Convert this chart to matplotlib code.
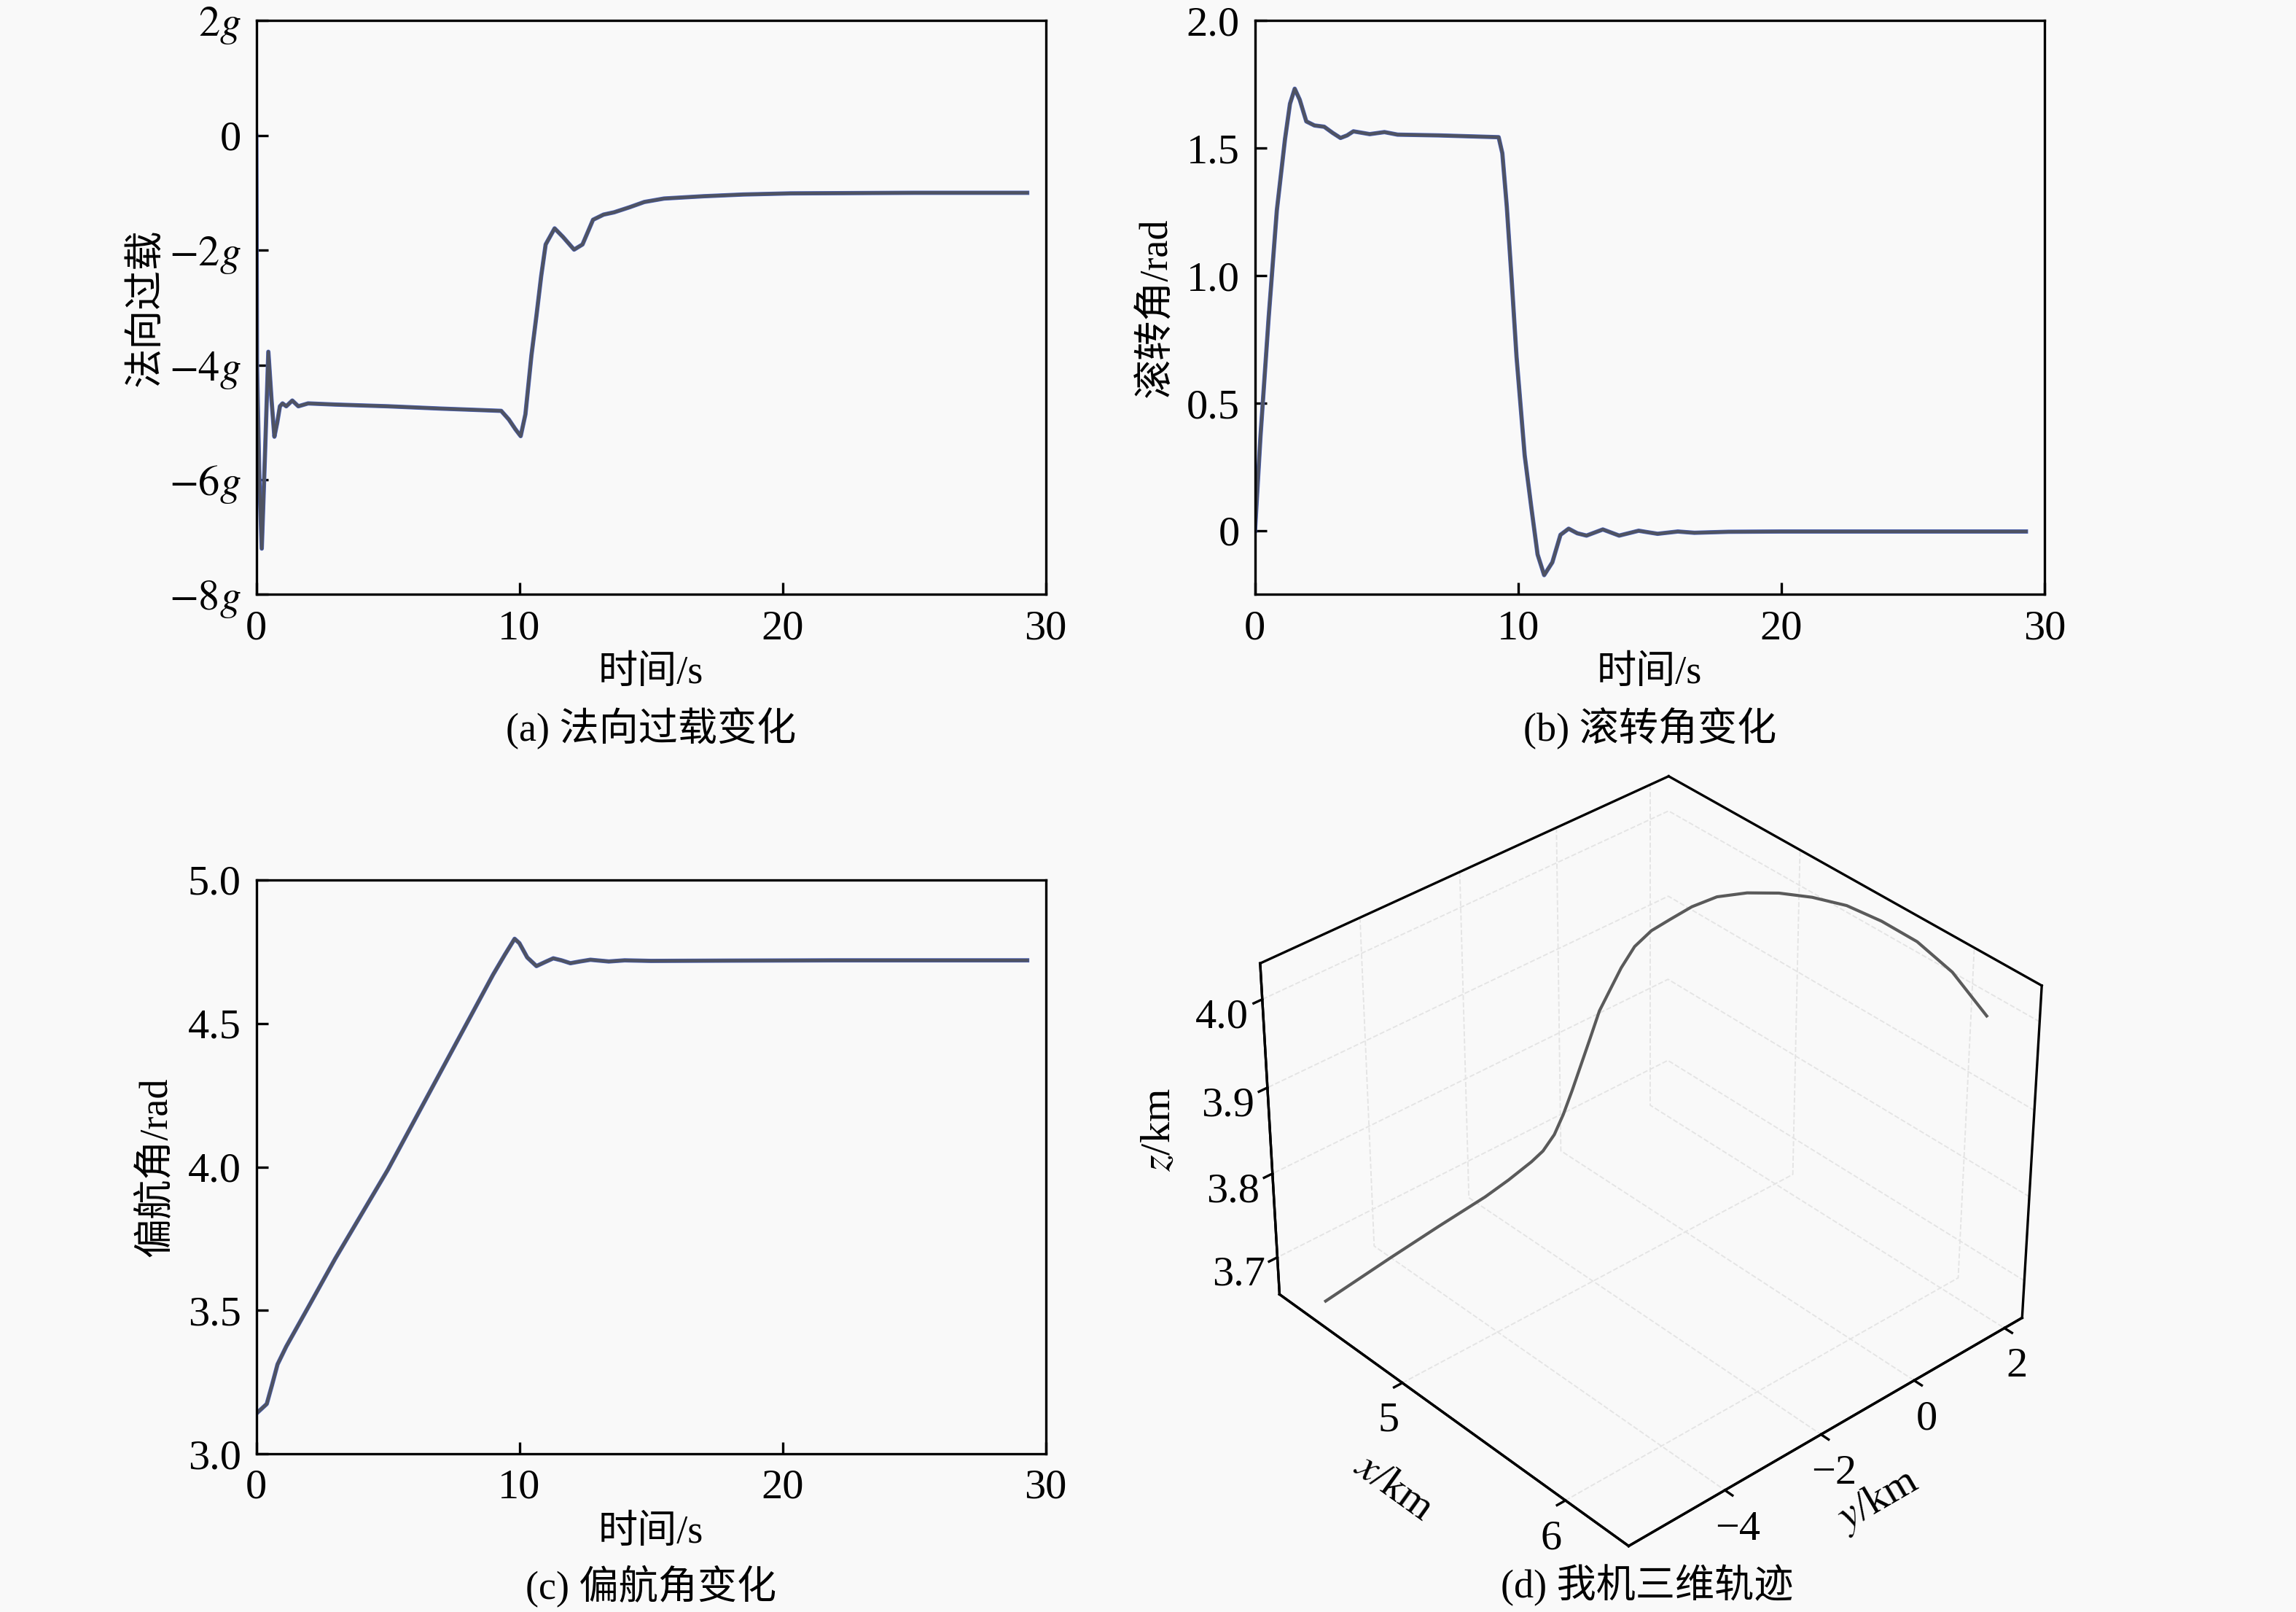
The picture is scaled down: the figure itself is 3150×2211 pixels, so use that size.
import matplotlib
matplotlib.use("Agg")
import matplotlib.pyplot as plt

plt.rcParams['font.family'] = ['Liberation Serif', 'Noto Sans CJK SC']
plt.rcParams['mathtext.fontset'] = 'stix'
plt.rcParams['font.size'] = 14
plt.rcParams['axes.unicode_minus'] = True

# (a) normal overload, in g
t_a = [0, 0.03, 0.12, 0.21, 0.33, 0.46, 0.58, 0.69, 0.8, 0.9, 1.0, 1.14, 1.37, 1.6, 1.97,
       3, 5, 7, 9.31, 9.6, 9.85, 10.05, 10.23, 10.46, 10.65, 10.83, 11.0, 11.34, 11.66,
       12.08, 12.4, 12.8, 13.2, 13.6, 14.2, 14.75, 15.5, 17, 18.5, 20.3, 25, 29.3]
n_a = [0, -4.0, -6.0, -7.2, -5.6, -3.77, -4.6, -5.25, -5.0, -4.72, -4.67, -4.72, -4.62, -4.72, -4.67,
       -4.69, -4.72, -4.76, -4.80, -4.95, -5.12, -5.24, -4.86, -3.83, -3.14, -2.45, -1.9, -1.62, -1.77,
       -1.99, -1.9, -1.47, -1.38, -1.34, -1.25, -1.16, -1.1, -1.06, -1.03, -1.01, -1.0, -1.0]

# (b) roll angle, rad
t_b = [0, 0.21, 0.52, 0.83, 1.14, 1.33, 1.51, 1.7, 1.95, 2.26, 2.63, 2.95, 3.25, 3.5, 3.74,
       4.36, 4.92, 5.42, 7, 9.26, 9.4, 9.57, 9.75, 9.94, 10.25, 10.5, 10.74, 10.99, 11.3,
       11.61, 11.92, 12.25, 12.6, 13.22, 13.84, 14.58, 15.3, 16.07, 16.7, 18, 20, 25, 29.3]
phi = [0, 0.372, 0.837, 1.256, 1.535, 1.674, 1.733, 1.69, 1.605, 1.589, 1.584, 1.56, 1.54, 1.55, 1.566,
       1.555, 1.563, 1.553, 1.55, 1.543, 1.48, 1.271, 0.992, 0.682, 0.295, 0.093, -0.093, -0.174, -0.124,
       -0.016, 0.008, -0.01, -0.019, 0.005, -0.019, 0.0, -0.012, -0.003, -0.008, -0.004, -0.003, -0.003, -0.003]

# (c) yaw angle, rad
t_c = [0, 0.4, 0.6, 0.81, 1.14, 2, 3, 5, 7, 9, 9.45, 9.82, 10.0, 10.3, 10.65, 11.0, 11.29,
       11.6, 11.94, 12.3, 12.7, 13.4, 14, 15, 18, 22, 29.3]
psi = [3.14, 3.174, 3.24, 3.312, 3.374, 3.515, 3.68, 3.99, 4.33, 4.67, 4.74, 4.795, 4.78, 4.73, 4.70,
       4.715, 4.727, 4.72, 4.71, 4.716, 4.722, 4.716, 4.72, 4.718, 4.719, 4.72, 4.72]

# (d) 3D trajectory, km
traj_x = [6.110, 5.914, 5.720, 5.529, 5.345, 5.167, 4.999, 4.841, 4.696, 4.584, 4.497, 4.426,
          4.372, 4.340, 4.322, 4.313, 4.310, 4.310, 4.310, 4.310, 4.310, 4.310, 4.310, 4.310,
          4.310, 4.310, 4.310, 4.310]
traj_y = [2.300, 2.290, 2.262, 2.214, 2.148, 2.064, 1.963, 1.846, 1.714, 1.569, 1.411, 1.243,
          1.065, 0.881, 0.690, 0.496, 0.300, 0.100, -0.100, -0.300, -0.500, -0.750, -1.000, -1.500,
          -2.000, -3.000, -4.000, -5.350]
traj_z = [3.979, 4.006, 4.019, 4.022, 4.021, 4.013, 4.002, 3.988, 3.971, 3.951, 3.931, 3.914,
          3.894, 3.870, 3.846, 3.826, 3.798, 3.772, 3.746, 3.722, 3.703, 3.690, 3.684, 3.676,
          3.670, 3.663, 3.655, 3.643]

bg = '#f9f9f9'
line_blue = '#4a64c8'
line_grey = '#505050'
fs_cn = 13

fig = plt.figure(figsize=(10.5, 7.37), dpi=300, facecolor=bg)


def style_2d(ax):
    ax.set_facecolor(bg)
    for s in ax.spines.values():
        s.set_linewidth(0.8)
    ax.tick_params(direction='in', length=3.8, width=0.8, pad=5, labelsize=14,
                   top=False, right=False)
    ax.set_xlim(0, 30)
    ax.set_xticks([0, 10, 20, 30])
    ax.set_xlabel('时间/s', fontsize=fs_cn)
    ax.xaxis.set_label_coords(0.5, -0.138)
    ax.xaxis.label.set_va('center')


def draw_line(ax, t, v):
    ax.plot(t, v, color=line_blue, lw=1.4)
    ax.plot(t, v, color=line_grey, lw=1.1, alpha=0.85)


ax_a = fig.add_axes([0.1116, 0.6312, 0.3438, 0.356])
style_2d(ax_a)
draw_line(ax_a, t_a, n_a)
ax_a.set_ylim(-8, 2)
ax_a.set_yticks([-8, -6, -4, -2, 0, 2])
ax_a.set_yticklabels(['$-8g$', '$-6g$', '$-4g$', '$-2g$', '0', '$2g$'])
ax_a.set_ylabel('法向过载', fontsize=fs_cn)
ax_a.yaxis.set_label_coords(-0.139, 0.5)
ax_a.yaxis.label.set_va('center')
ax_a.text(0.5, -0.232, '(a) 法向过载变化', transform=ax_a.transAxes, ha='center', va='center', fontsize=fs_cn)

ax_b = fig.add_axes([0.5466, 0.6312, 0.3438, 0.356])
style_2d(ax_b)
draw_line(ax_b, t_b, phi)
ax_b.set_ylim(-0.25, 2.0)
ax_b.set_yticks([0, 0.5, 1.0, 1.5, 2.0])
ax_b.set_yticklabels(['0', '0.5', '1.0', '1.5', '2.0'])
ax_b.set_ylabel('滚转角/rad', fontsize=fs_cn)
ax_b.yaxis.set_label_coords(-0.124, 0.5)
ax_b.yaxis.label.set_va('center')
ax_b.text(0.5, -0.232, '(b) 滚转角变化', transform=ax_b.transAxes, ha='center', va='center', fontsize=fs_cn)

ax_c = fig.add_axes([0.1116, 0.0981, 0.3438, 0.356])
style_2d(ax_c)
draw_line(ax_c, t_c, psi)
ax_c.set_ylim(3.0, 5.0)
ax_c.set_yticks([3.0, 3.5, 4.0, 4.5, 5.0])
ax_c.set_yticklabels(['3.0', '3.5', '4.0', '4.5', '5.0'])
ax_c.set_ylabel('偏航角/rad', fontsize=fs_cn)
ax_c.yaxis.set_label_coords(-0.126, 0.5)
ax_c.yaxis.label.set_va('center')
ax_c.text(0.5, -0.232, '(c) 偏航角变化', transform=ax_c.transAxes, ha='center', va='center', fontsize=fs_cn)

# (d) 3D trajectory
ax_d = fig.add_axes([0.482, 0.023, 0.463, 0.52], projection='3d')
ax_d.set_facecolor((1, 1, 1, 0))
ax_d.set_proj_type('persp')
ax_d.view_init(elev=35, azim=-42)
ax_d.set_box_aspect((1, 1, 0.75))
xlim = (4.20, 6.37)
ylim = (-5.94, 2.4)
zlim = (3.655, 4.04)
ax_d.set_xlim(*xlim)
ax_d.set_ylim(*ylim)
ax_d.set_zlim(*zlim)
ax_d.set_xticks([5, 6])
ax_d.set_yticks([-4, -2, 0, 2])
ax_d.set_zticks([3.7, 3.8, 3.9, 4.0])
ax_d.set_zticklabels(['3.7', '3.8', '3.9', '4.0'])
ax_d.grid(True)
for axis in (ax_d.xaxis, ax_d.yaxis, ax_d.zaxis):
    axis.set_pane_color((1, 1, 1, 0))
    axis.pane.set_edgecolor((1, 1, 1, 0))
    axis.line.set_color('k')
    axis.line.set_linewidth(0.8)
    axis._axinfo['grid'].update({'color': '#e4e4e4', 'linestyle': '--', 'linewidth': 0.45})
    axis._axinfo['tick']['inward_factor'] = 0.25
    axis._axinfo['tick']['outward_factor'] = 0.0
    axis._axinfo['tick']['linewidth'] = {True: 0.8, False: 0.5}
ax_d.zaxis.set_ticks_position('lower')
ax_d.zaxis.set_label_position('lower')
ax_d.tick_params(labelsize=14)
ax_d.tick_params(axis='x', pad=-3)
ax_d.tick_params(axis='y', pad=-3)
ax_d.tick_params(axis='z', pad=-0.5)

# outer box outline
x0, x1 = xlim
y0, y1 = ylim
z0, z1 = zlim
edges = [((x0, y1, z1), (x0, y0, z1)), ((x0, y0, z1), (x0, y0, z0)),
         ((x0, y0, z0), (x1, y0, z0)), ((x1, y0, z0), (x1, y1, z0)),
         ((x1, y1, z0), (x1, y1, z1)), ((x1, y1, z1), (x0, y1, z1))]
for p, q in edges:
    ax_d.plot([p[0], q[0]], [p[1], q[1]], [p[2], q[2]], color='k', lw=0.8)

ax_d.plot(traj_x, traj_y, traj_z, color='#5a5a5a', lw=1.0)
ax_d.set_xlabel('$x$/km', fontsize=14, labelpad=-2)
ax_d.set_ylabel('$y$/km', fontsize=14, labelpad=-3)
ax_d.zaxis.set_rotate_label(False)
ax_d.set_zlabel('$z$/km', fontsize=14, labelpad=0, rotation=90)
ax_d.set_xlim(*xlim)
ax_d.set_ylim(*ylim)
ax_d.set_zlim(*zlim)
fig.text(0.7175, 0.0163, '(d) 我机三维轨迹', ha='center', va='center', fontsize=fs_cn)

fig.savefig('out.png', dpi=300, facecolor=bg)
